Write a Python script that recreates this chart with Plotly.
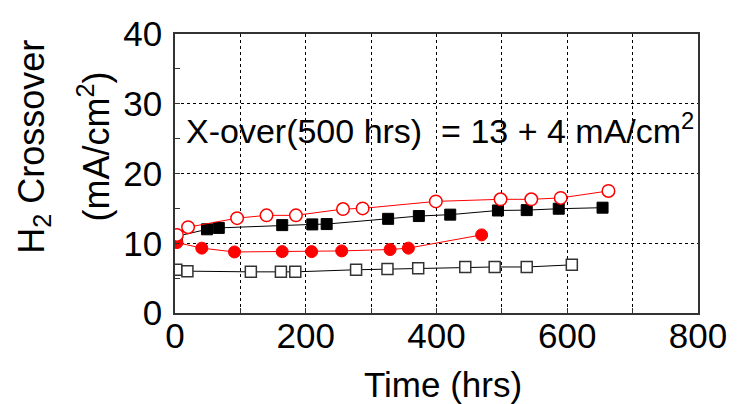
import plotly.graph_objects as go

# ---------------- data ----------------
open_sq_x = [2, 19, 116, 162, 184, 277, 325, 372, 444, 489, 538, 607]
open_sq_y = [6.2, 6.0, 5.9, 5.9, 5.9, 6.2, 6.3, 6.4, 6.6, 6.6, 6.6, 6.9]

filled_sq_x = [3, 49, 67, 164, 210, 232, 326, 373, 421, 494, 538, 587, 654]
filled_sq_y = [11.0, 12.0, 12.2, 12.6, 12.7, 12.75, 13.5, 13.9, 14.1, 14.7, 14.75, 14.95, 15.1]

filled_circ_x = [3, 41, 91, 164, 209, 255, 329, 357, 469]
filled_circ_y = [10.1, 9.3, 8.75, 8.8, 8.8, 8.9, 9.1, 9.3, 11.2]

open_circ_x = [3, 20, 95, 140, 185, 257, 287, 399, 498, 545, 590, 663]
open_circ_y = [11.2, 12.3, 13.6, 14.0, 14.0, 14.9, 15.0, 16.0, 16.3, 16.3, 16.5, 17.5]

x_range = [0, 800]
x_major_step = 200
x_minor_step = 100
y_range = [0, 40]
y_major_step = 10
y_minor_step = 5

x_title = "Time (hrs)"
y_title_1 = "H<sub>2</sub> Crossover"
y_title_2 = "(mA/cm<sup>2</sup>)"
note = "X-over(500 hrs)\u00a0\u00a0= 13 + 4 mA/cm<sup>2</sup>"

# ---------------- figure ----------------
W, H = 739, 404
ML, MR, MT, MB = 175, 31, 34, 91
FONT = "Arial, Liberation Sans, sans-serif"

def px_to_paper_x(px):
    return (px - ML) / (W - ML - MR)

def px_to_paper_y(py):
    return (H - MB - py) / (H - MT - MB)

fig = go.Figure()

fig.add_trace(go.Scatter(
    x=open_sq_x, y=open_sq_y, mode="lines+markers",
    line=dict(color="black", width=1),
    marker=dict(symbol="square", size=11, color="white",
                line=dict(color="#333333", width=1.5)),
    showlegend=False))

fig.add_trace(go.Scatter(
    x=filled_sq_x, y=filled_sq_y, mode="lines+markers",
    line=dict(color="black", width=1),
    marker=dict(symbol="square", size=11, color="black",
                line=dict(color="black", width=1)),
    showlegend=False))

fig.add_trace(go.Scatter(
    x=filled_circ_x, y=filled_circ_y, mode="lines+markers",
    line=dict(color="red", width=1),
    marker=dict(symbol="circle", size=12, color="red",
                line=dict(color="red", width=1)),
    showlegend=False))

fig.add_trace(go.Scatter(
    x=open_circ_x, y=open_circ_y, mode="lines+markers",
    line=dict(color="red", width=1),
    marker=dict(symbol="circle", size=12.5, color="white",
                line=dict(color="red", width=1.5)),
    showlegend=False))

axis_common = dict(
    showline=True, linecolor="#333333", linewidth=1.5, mirror=True,
    ticks="inside", ticklen=5, tickcolor="#333333", tickwidth=1,
    showgrid=True, gridcolor="black", gridwidth=1, griddash="dot",
    zeroline=False,
    tickfont=dict(family=FONT, size=35, color="black"),
)

fig.update_xaxes(range=x_range, tick0=0, dtick=x_major_step,
                 ticklabelstandoff=-9,
                 minor=dict(dtick=x_minor_step, ticks="inside", ticklen=5,
                            tickcolor="#333333", showgrid=True,
                            gridcolor="black", gridwidth=1, griddash="dot"),
                 **axis_common)
fig.update_yaxes(range=y_range, tick0=0, dtick=y_major_step,
                 ticklabelstandoff=4,
                 minor=dict(dtick=y_minor_step, ticks="inside", ticklen=5,
                            tickcolor="#333333", showgrid=False),
                 **axis_common)

fig.add_annotation(x=405, y=26.5, xref="x", yref="y", text=note,
                   showarrow=False, xanchor="center", yanchor="middle",
                   font=dict(family=FONT, size=34, color="black"))

fig.add_annotation(x=px_to_paper_x(448), y=px_to_paper_y(384),
                   xref="paper", yref="paper", text=x_title,
                   showarrow=False, xanchor="center", yanchor="middle",
                   font=dict(family=FONT, size=35, color="black"))

fig.add_annotation(x=px_to_paper_x(31), y=px_to_paper_y(147),
                   xref="paper", yref="paper", text=y_title_1,
                   textangle=-90, showarrow=False,
                   xanchor="center", yanchor="middle",
                   font=dict(family=FONT, size=36, color="black"))

fig.add_annotation(x=px_to_paper_x(92), y=px_to_paper_y(147),
                   xref="paper", yref="paper", text=y_title_2,
                   textangle=-90, showarrow=False,
                   xanchor="center", yanchor="middle",
                   font=dict(family=FONT, size=36, color="black"))

fig.update_layout(
    width=W, height=H,
    margin=dict(l=ML, r=MR, t=MT, b=MB),
    paper_bgcolor="white", plot_bgcolor="white",
    showlegend=False,
)

fig.write_html("out.html")
